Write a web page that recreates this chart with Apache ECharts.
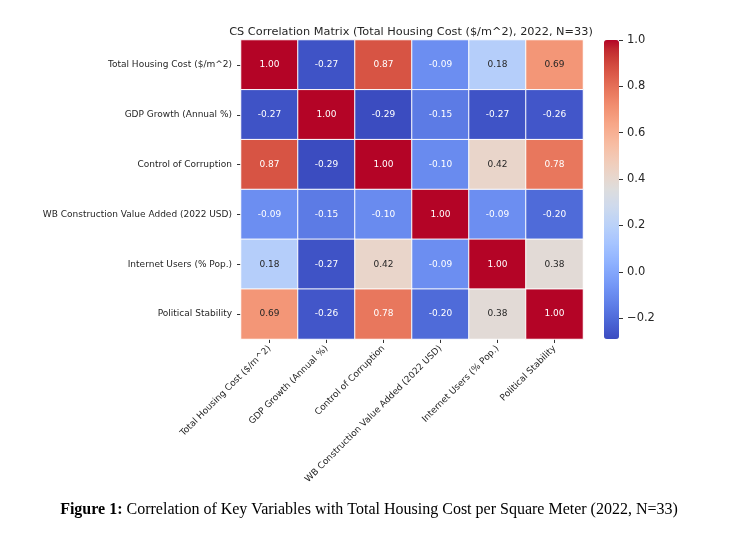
<!DOCTYPE html>
<html><head><meta charset="utf-8">
<script src="https://cdn.jsdelivr.net/npm/echarts@6/dist/echarts.min.js"></script>
<style>html,body{margin:0;padding:0;background:#fff}#c{width:741px;height:538px}</style>
</head><body><div id="c"></div>
<script>
const variables = ["Total Housing Cost ($/m^2)","GDP Growth (Annual %)","Control of Corruption","WB Construction Value Added (2022 USD)","Internet Users (% Pop.)","Political Stability"];
const row0 = [1.00,-0.27,0.87,-0.09,0.18,0.69];
const row1 = [-0.27,1.00,-0.29,-0.15,-0.27,-0.26];
const row2 = [0.87,-0.29,1.00,-0.10,0.42,0.78];
const row3 = [-0.09,-0.15,-0.10,1.00,-0.09,-0.20];
const row4 = [0.18,-0.27,0.42,-0.09,1.00,0.38];
const row5 = [0.69,-0.26,0.78,-0.20,0.38,1.00];
const colorbarTicks = [-0.2,0.0,0.2,0.4,0.6,0.8,1.0];
const vmin = -0.29, vmax = 1.0;
const rows = [row0,row1,row2,row3,row4,row5];

const coolwarm = [[59,76,192],[68,90,204],[77,104,215],[87,117,225],[98,130,234],[108,142,241],[119,154,247],[130,165,251],[141,176,254],[152,185,255],[163,194,255],[174,201,253],[184,208,249],[194,213,244],[204,217,238],[213,219,230],[221,221,221],[229,216,209],[236,211,197],[241,204,185],[245,196,173],[247,187,160],[247,177,148],[247,166,135],[244,154,123],[241,141,111],[236,127,99],[229,112,88],[222,96,77],[213,80,66],[203,62,56],[192,40,47],[180,4,38]];
const cmapHex = coolwarm.map(c=>'rgb('+c.join(',')+')');
function cmap(v){
  let t=(v-vmin)/(vmax-vmin); t=Math.max(0,Math.min(1,t));
  const p=t*(coolwarm.length-1), i=Math.min(Math.floor(p),coolwarm.length-2), f=p-i;
  return coolwarm[i].map((a,k)=>a+(coolwarm[i+1][k]-a)*f);
}
function lum(rgb){
  const c=rgb.map(x=>{x/=255;return x<=0.03928?x/12.92:Math.pow((x+0.055)/1.055,2.4);});
  return 0.2126*c[0]+0.7152*c[1]+0.0722*c[2];
}
const data=[];
rows.forEach((r,yi)=>r.forEach((v,xi)=>{
  data.push({value:[xi,yi,v],label:{color: lum(cmap(v))>0.408 ? '#262626' : '#ffffff'}});
}));
const fmtMinus = v => (v<0?'\u2212':'')+Math.abs(v).toFixed(1);
const chart=echarts.init(document.getElementById('c'),null,{renderer:'canvas'});
chart.setOption({
  animation:false,
  backgroundColor:'#fff',
  title:[{
    text:'CS Correlation Matrix (Total Housing Cost ($/m^2), 2022, N=33)',
    left:406, top:22, textAlign:'center',
    textStyle:{fontFamily:'DejaVu Sans',fontSize:11.3,fontWeight:'normal',color:'#262626'}
  },{
    text:'{b|Figure 1:} Correlation of Key Variables with Total Housing Cost per Square Meter (2022, N=33)',
    left:364, top:497, textAlign:'center',
    textStyle:{fontFamily:'Liberation Serif',fontSize:16,fontWeight:'normal',color:'#000',
      rich:{b:{fontFamily:'Liberation Serif',fontSize:16,fontWeight:'bold',color:'#000'}}}
  }],
  grid:[
    {left:241,top:40,width:342,height:299},
    {left:604,top:40,width:15,height:299}
  ],
  xAxis:[{
    type:'category',data:variables,gridIndex:0,position:'bottom',
    axisLine:{show:false},splitLine:{show:false},
    axisTick:{show:true,length:4,alignWithLabel:true,lineStyle:{color:'#333'}},
    axisLabel:{rotate:45,interval:0,fontFamily:'DejaVu Sans',fontSize:9,color:'#262626',margin:8}
  },{
    type:'value',gridIndex:1,show:false,min:0,max:1
  }],
  yAxis:[{
    type:'category',data:variables,gridIndex:0,inverse:true,
    axisLine:{show:false},splitLine:{show:false},
    axisTick:{show:true,length:4,alignWithLabel:true,lineStyle:{color:'#333'}},
    axisLabel:{interval:0,fontFamily:'DejaVu Sans',fontSize:9,color:'#262626',margin:9}
  },{
    type:'value',gridIndex:1,position:'right',min:vmin,max:vmax,
    axisLine:{show:false,onZero:false},splitLine:{show:false},
    axisTick:{show:true,length:4,inside:false,customValues:colorbarTicks,lineStyle:{color:'#333'}},
    axisLabel:{show:true,customValues:colorbarTicks,formatter:fmtMinus,fontFamily:'DejaVu Sans',fontSize:11.5,color:'#262626',margin:8}
  }],
  visualMap:[{
    type:'continuous',min:vmin,max:vmax,seriesIndex:0,calculable:false,show:true,
    orient:'vertical',left:604,top:40,padding:0,itemWidth:15,itemHeight:299,text:null,showLabel:false,
    inRange:{color:cmapHex}
  }],
  series:[{
    type:'heatmap',xAxisIndex:0,yAxisIndex:0,data:data,
    itemStyle:{borderColor:'#ffffff',borderWidth:1},
    label:{show:true,formatter:p=>p.value[2].toFixed(2),fontFamily:'DejaVu Sans',fontSize:9},
    emphasis:{disabled:true}
  }]
});
</script></body></html>
